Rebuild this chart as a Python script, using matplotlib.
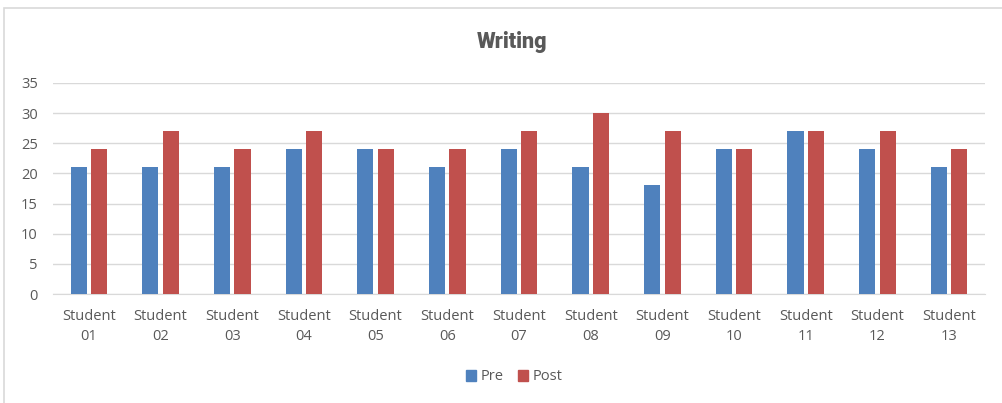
import matplotlib
matplotlib.use("Agg")
import matplotlib.pyplot as plt
import numpy as np
from matplotlib.patches import Rectangle, Patch

students = ["Student\n01", "Student\n02", "Student\n03", "Student\n04", "Student\n05",
            "Student\n06", "Student\n07", "Student\n08", "Student\n09", "Student\n10",
            "Student\n11", "Student\n12", "Student\n13"]
pre = [21, 21, 21, 24, 24, 21, 24, 21, 18, 24, 27, 24, 21]
post = [24, 27, 24, 27, 24, 24, 27, 30, 27, 24, 27, 27, 24]
y_ticks = [0, 5, 10, 15, 20, 25, 30, 35]

BLUE = "#4F81BD"
RED = "#C0504D"
TEXT = "#595959"
GRID = "#D9D9D9"

plt.rcParams["font.family"] = ["Open Sans", "DejaVu Sans"]

W, H = 1002, 403
fig = plt.figure(figsize=(W / 100, H / 100), dpi=100)
fig.patch.set_facecolor("white")

# chart frame
fig.add_artist(Rectangle((4 / W, -0.1), 1.2, (H - 8) / H + 0.1, transform=fig.transFigure,
                         fill=False, edgecolor=GRID, linewidth=1.2))

ax = fig.add_axes([53 / W, (H - 294) / H, (985 - 53) / W, (294 - 83) / H])
x = np.arange(len(students))
bw = 0.225
gap = 0.06
ax.bar(x - (bw + gap) / 2, pre, width=bw, color=BLUE, zorder=3, label="Pre")
ax.bar(x + (bw + gap) / 2, post, width=bw, color=RED, zorder=3, label="Post")

ax.set_xlim(-0.5, len(students) - 0.5)
ax.set_ylim(0, 35)
ax.set_yticks(y_ticks)
ax.set_xticks(x)
ax.set_xticklabels(students, fontsize=10.5, color=TEXT, linespacing=1.45)
ax.tick_params(axis="y", labelsize=10.5, colors=TEXT, length=0, pad=11)
ax.tick_params(axis="x", length=0, pad=11)
ax.grid(axis="y", color=GRID, linewidth=1, zorder=0)
for s in ["top", "right", "left"]:
    ax.spines[s].set_visible(False)
ax.spines["bottom"].set_color(GRID)

fig.text(0.511, 1 - 42 / H, "Writing", ha="center", va="center", fontsize=15.5,
         fontweight="heavy", color=TEXT, family=["Roboto", "DejaVu Sans"])

handles = [Patch(color=BLUE, label="Pre"), Patch(color=RED, label="Post")]
fig.legend(handles=handles, loc="center", bbox_to_anchor=(0.513, 1 - 377 / H), ncol=2,
           frameon=False, fontsize=10.5, labelcolor=TEXT, handlelength=0.7,
           handleheight=0.7, handletextpad=0.3, columnspacing=1.0)

fig.savefig("out.png", dpi=100, facecolor="white")
